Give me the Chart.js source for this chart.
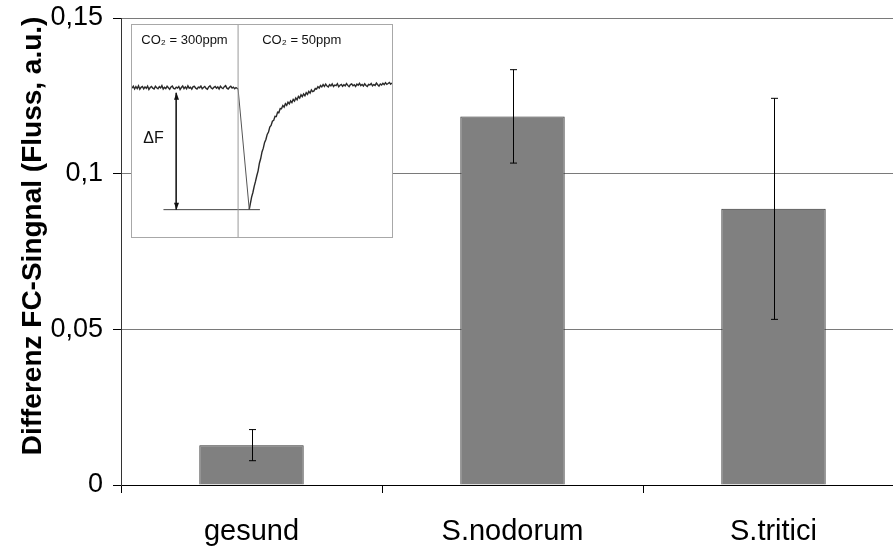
<!DOCTYPE html>
<html>
<head>
<meta charset="utf-8">
<script src="https://cdn.jsdelivr.net/npm/chart.js@4"></script>
<style>
  html, body { margin: 0; padding: 0; background: #fff; overflow: hidden; }
  #wrap { position: relative; width: 910px; height: 547px; }
  #inset { position: absolute; left: 131px; top: 24px; width: 262px; height: 214px;
           border: 1px solid #a8a8a8; background: #fff; box-sizing: border-box; }
</style>
</head>
<body>
<div id="wrap">
  <canvas id="chartMain"></canvas>
  <div id="inset"><canvas id="chartInset"></canvas></div>
</div>
<script>
// Hauptdiagramm: Differenz FC-Signal
const kategorien = ['gesund', 'S.nodorum', 'S.tritici'];
const mittelwerte = [0.0128, 0.1184, 0.0887];
const fehler = [0.0050, 0.0150, 0.0355];
const yTicks = [0, 0.05, 0.1, 0.15];

// Einschub: Fluoreszenzverlauf beim CO2-Wechsel (x = Zeit, y = Signal, a.u.)
const kurveVorher = [
  [0, 70.2], [0.5, 71.1], [1, 69.8], [1.5, 70.9], [2, 70.0], [2.5, 71.3], [3, 69.7], [3.5, 70.6],
  [4, 71.0], [4.5, 69.9], [5, 70.8], [5.5, 70.1], [6, 71.2], [6.5, 69.6], [7, 70.5], [7.5, 71.0],
  [8, 70.2], [8.5, 69.8], [9, 71.1], [9.5, 70.4], [10, 69.9], [10.5, 70.9], [11, 70.3], [11.5, 71.4],
  [12, 69.8], [12.5, 70.6], [13, 70.0], [13.5, 71.1], [14, 70.4], [14.5, 69.7], [15, 70.8], [15.5, 71.2],
  [16, 70.1], [16.5, 69.9], [17, 70.7], [17.5, 70.3], [18, 71.0], [18.5, 69.6], [19, 70.5], [19.5, 71.2],
  [20, 70.0], [20.5, 70.8], [21, 69.9], [21.5, 71.3], [22, 70.2], [22.5, 70.6], [23, 69.7], [23.5, 70.9],
  [24, 71.1], [24.5, 70.2], [25, 69.8], [25.5, 70.7], [26, 70.4], [26.5, 71.2], [27, 69.9], [27.5, 70.5],
  [28, 71.0], [28.5, 70.1], [29, 69.7], [29.5, 70.8], [30, 71.3], [30.5, 70.3], [31, 69.9], [31.5, 70.6],
  [32, 71.0], [32.5, 70.2], [33, 70.8], [33.5, 69.8], [34, 71.1], [34.5, 70.4], [35, 70.0], [35.5, 70.9],
  [36, 71.4], [36.5, 70.2], [37, 69.8], [37.5, 70.6], [38, 71.1], [38.5, 70.3], [39, 70.7], [39.5, 69.9],
  [40, 70.5], [40.8, 69.8]
];
const kurveAbfall = [[40.8, 69.8], [45.1, 13.0]];
const kurveErholung = [
  [45.1, 13.0], [46, 18.8], [46.5, 21.0], [47, 23.9], [47.5, 26.2], [48, 28.9], [48.5, 31.2], [49, 34.8],
  [49.5, 37.0], [50, 40.1], [50.5, 41.9], [51, 44.6], [51.5, 46.0], [52, 48.4], [52.5, 49.5], [53, 51.9],
  [53.5, 52.6], [54, 54.6], [54.5, 55.0], [55, 56.9], [55.5, 56.8], [56, 58.9], [56.5, 58.7], [57, 60.6],
  [57.5, 60.5], [58, 62.0], [58.5, 61.3], [59, 62.9], [59.5, 62.1], [60, 63.6], [60.5, 62.8], [61, 64.2],
  [61.5, 63.4], [62, 64.9], [62.5, 64.1], [63, 65.6], [63.5, 64.7], [64, 66.3], [64.5, 65.5], [65, 67.1],
  [65.5, 66.2], [66, 67.5], [66.5, 66.6], [67, 68.1], [67.5, 67.3], [68, 68.7], [68.5, 67.9], [69, 69.4],
  [69.5, 68.6], [70, 68.9], [70.5, 70.1], [71, 69.8], [71.5, 70.9], [72, 70.3], [72.5, 71.5], [73, 70.8],
  [73.5, 71.9], [74, 71.0], [74.5, 72.1], [75, 71.2], [75.5, 70.8], [76, 71.9], [76.5, 71.3], [77, 72.2],
  [77.5, 71.0], [78, 71.7], [78.5, 71.4], [79, 72.3], [79.5, 70.9], [80, 71.6], [80.5, 72.0], [81, 71.1],
  [81.5, 71.8], [82, 71.3], [82.5, 72.4], [83, 71.5], [83.5, 70.9], [84, 71.9], [84.5, 72.2], [85, 71.3],
  [85.5, 71.8], [86, 71.0], [86.5, 72.1], [87, 71.6], [87.5, 72.5], [88, 71.4], [88.5, 71.9], [89, 71.2],
  [89.5, 72.3], [90, 71.5], [90.5, 71.0], [91, 72.0], [91.5, 71.7], [92, 72.4], [92.5, 71.3], [93, 71.9],
  [93.5, 71.5], [94, 72.6], [94.5, 71.8], [95, 71.2], [95.5, 72.2], [96, 71.7], [96.5, 72.5], [97, 71.9],
  [97.5, 72.8], [98, 72.0], [98.5, 72.4], [99, 72.9], [99.5, 72.1], [100, 72.7]
];
const wechselZeit = 40.8;
const deltaX = 17.0;
const deltaOben = 68.0;
const deltaUnten = 12.9;
const minLinie = [12.1, 49.2];
const beschriftungen = [
  { text: 'CO\u2082 = 300ppm', x: 20.2, y: 92.5, size: 13 },
  { text: 'CO\u2082 = 50ppm', x: 65.3, y: 92.5, size: 13 },
  { text: '\u0394F', x: 8.3, y: 46.5, size: 16 }
];

const fmt = v => String(v).replace('.', ',');
const schrift = 'Arial, "Liberation Sans"';

// Fehlerbalken
const fehlerBalken = {
  id: 'fehlerBalken',
  afterDatasetsDraw(chart) {
    const ctx = chart.ctx, y = chart.scales.y;
    const meta = chart.getDatasetMeta(0);
    ctx.save();
    ctx.strokeStyle = '#000';
    ctx.lineWidth = 1;
    meta.data.forEach((bar, i) => {
      const x = Math.round(bar.x) + 0.5;
      const top = y.getPixelForValue(mittelwerte[i] + fehler[i]);
      const bot = y.getPixelForValue(mittelwerte[i] - fehler[i]);
      ctx.beginPath();
      ctx.moveTo(x, top); ctx.lineTo(x, bot);
      ctx.moveTo(x - 3.5, top); ctx.lineTo(x + 3.5, top);
      ctx.moveTo(x - 3.5, bot); ctx.lineTo(x + 3.5, bot);
      ctx.stroke();
    });
    ctx.restore();
  }
};

new Chart(document.getElementById('chartMain'), {
  type: 'bar',
  data: {
    labels: kategorien,
    datasets: [{
      data: mittelwerte,
      backgroundColor: '#808080',
      borderColor: '#333333',
      borderWidth: 1,
      barPercentage: 0.8,
      categoryPercentage: 0.5
    }]
  },
  options: {
    responsive: true,
    maintainAspectRatio: false,
    animation: false,
    layout: { padding: { left: 0, right: 6, top: 18, bottom: 0 } },
    plugins: { legend: { display: false }, tooltip: { enabled: false } },
    scales: {
      x: {
        grid: { drawOnChartArea: false, tickLength: 8, tickColor: '#000' },
        border: { color: '#000', width: 1 },
        ticks: { color: '#000', padding: 22, font: { family: schrift, size: 29 } },
        afterFit: s => { s.height = 62; }
      },
      y: {
        min: 0, max: 0.15,
        afterBuildTicks: s => { s.ticks = yTicks.map(v => ({ value: v })); },
        grid: {
          color: c => (c.tick && c.tick.value === 0 ? 'rgba(0,0,0,0)' : '#7a7a7a'),
          lineWidth: 1,
          tickLength: 8,
          tickColor: '#000'
        },
        border: { color: '#333', width: 1 },
        ticks: {
          color: '#000', padding: 10,
          font: { family: schrift, size: 27 },
          callback: v => fmt(v)
        },
        title: {
          display: true,
          text: '    Differenz FC-Singnal (Fluss, a.u.)',
          color: '#000',
          padding: { top: 16, bottom: 4 },
          font: { family: schrift, size: 28, weight: 'bold' }
        },
        afterFit: s => { s.width = 121; s.paddingTop = 0; s.paddingBottom = 0; }
      }
    }
  },
  plugins: [fehlerBalken]
});

// Pfeil und Texte im Einschub
const einschubDeko = {
  id: 'einschubDeko',
  afterDatasetsDraw(chart) {
    const ctx = chart.ctx, sx = chart.scales.x, sy = chart.scales.y;
    ctx.save();
    const ax = Math.round(sx.getPixelForValue(deltaX)) + 0.5;
    const a1 = sy.getPixelForValue(deltaOben), a2 = sy.getPixelForValue(deltaUnten);
    ctx.fillStyle = '#111';
    [[a1, 1], [a2, -1]].forEach(([py, d]) => {
      ctx.beginPath();
      ctx.moveTo(ax, py);
      ctx.lineTo(ax - 2.5, py + 7 * d);
      ctx.lineTo(ax + 2.5, py + 7 * d);
      ctx.closePath();
      ctx.fill();
    });
    ctx.textBaseline = 'middle';
    ctx.textAlign = 'center';
    beschriftungen.forEach(b => {
      ctx.font = b.size + 'px ' + schrift;
      ctx.fillText(b.text, sx.getPixelForValue(b.x), sy.getPixelForValue(b.y));
    });
    ctx.restore();
  }
};

const linie = (punkte, farbe, breite) => ({
  data: punkte.map(p => ({ x: p[0], y: p[1] })),
  borderColor: farbe, borderWidth: breite, pointRadius: 0, tension: 0
});

new Chart(document.getElementById('chartInset'), {
  type: 'line',
  data: {
    datasets: [
      linie([[wechselZeit, 0], [wechselZeit, 100]], '#9a9a9a', 1),
      linie([[deltaX, deltaOben], [deltaX, deltaUnten]], '#222', 1),
      linie([[minLinie[0], deltaUnten], [minLinie[1], deltaUnten]], '#444', 1),
      linie(kurveVorher, '#2a2a2a', 1.4),
      linie(kurveAbfall, '#555', 1),
      linie(kurveErholung, '#2a2a2a', 1.4)
    ]
  },
  options: {
    responsive: true,
    maintainAspectRatio: false,
    animation: false,
    layout: { padding: 0 },
    plugins: { legend: { display: false }, tooltip: { enabled: false } },
    scales: {
      x: { type: 'linear', min: 0, max: 100, display: false },
      y: { type: 'linear', min: 0, max: 100, display: false }
    }
  },
  plugins: [einschubDeko]
});
</script>
</body>
</html>
